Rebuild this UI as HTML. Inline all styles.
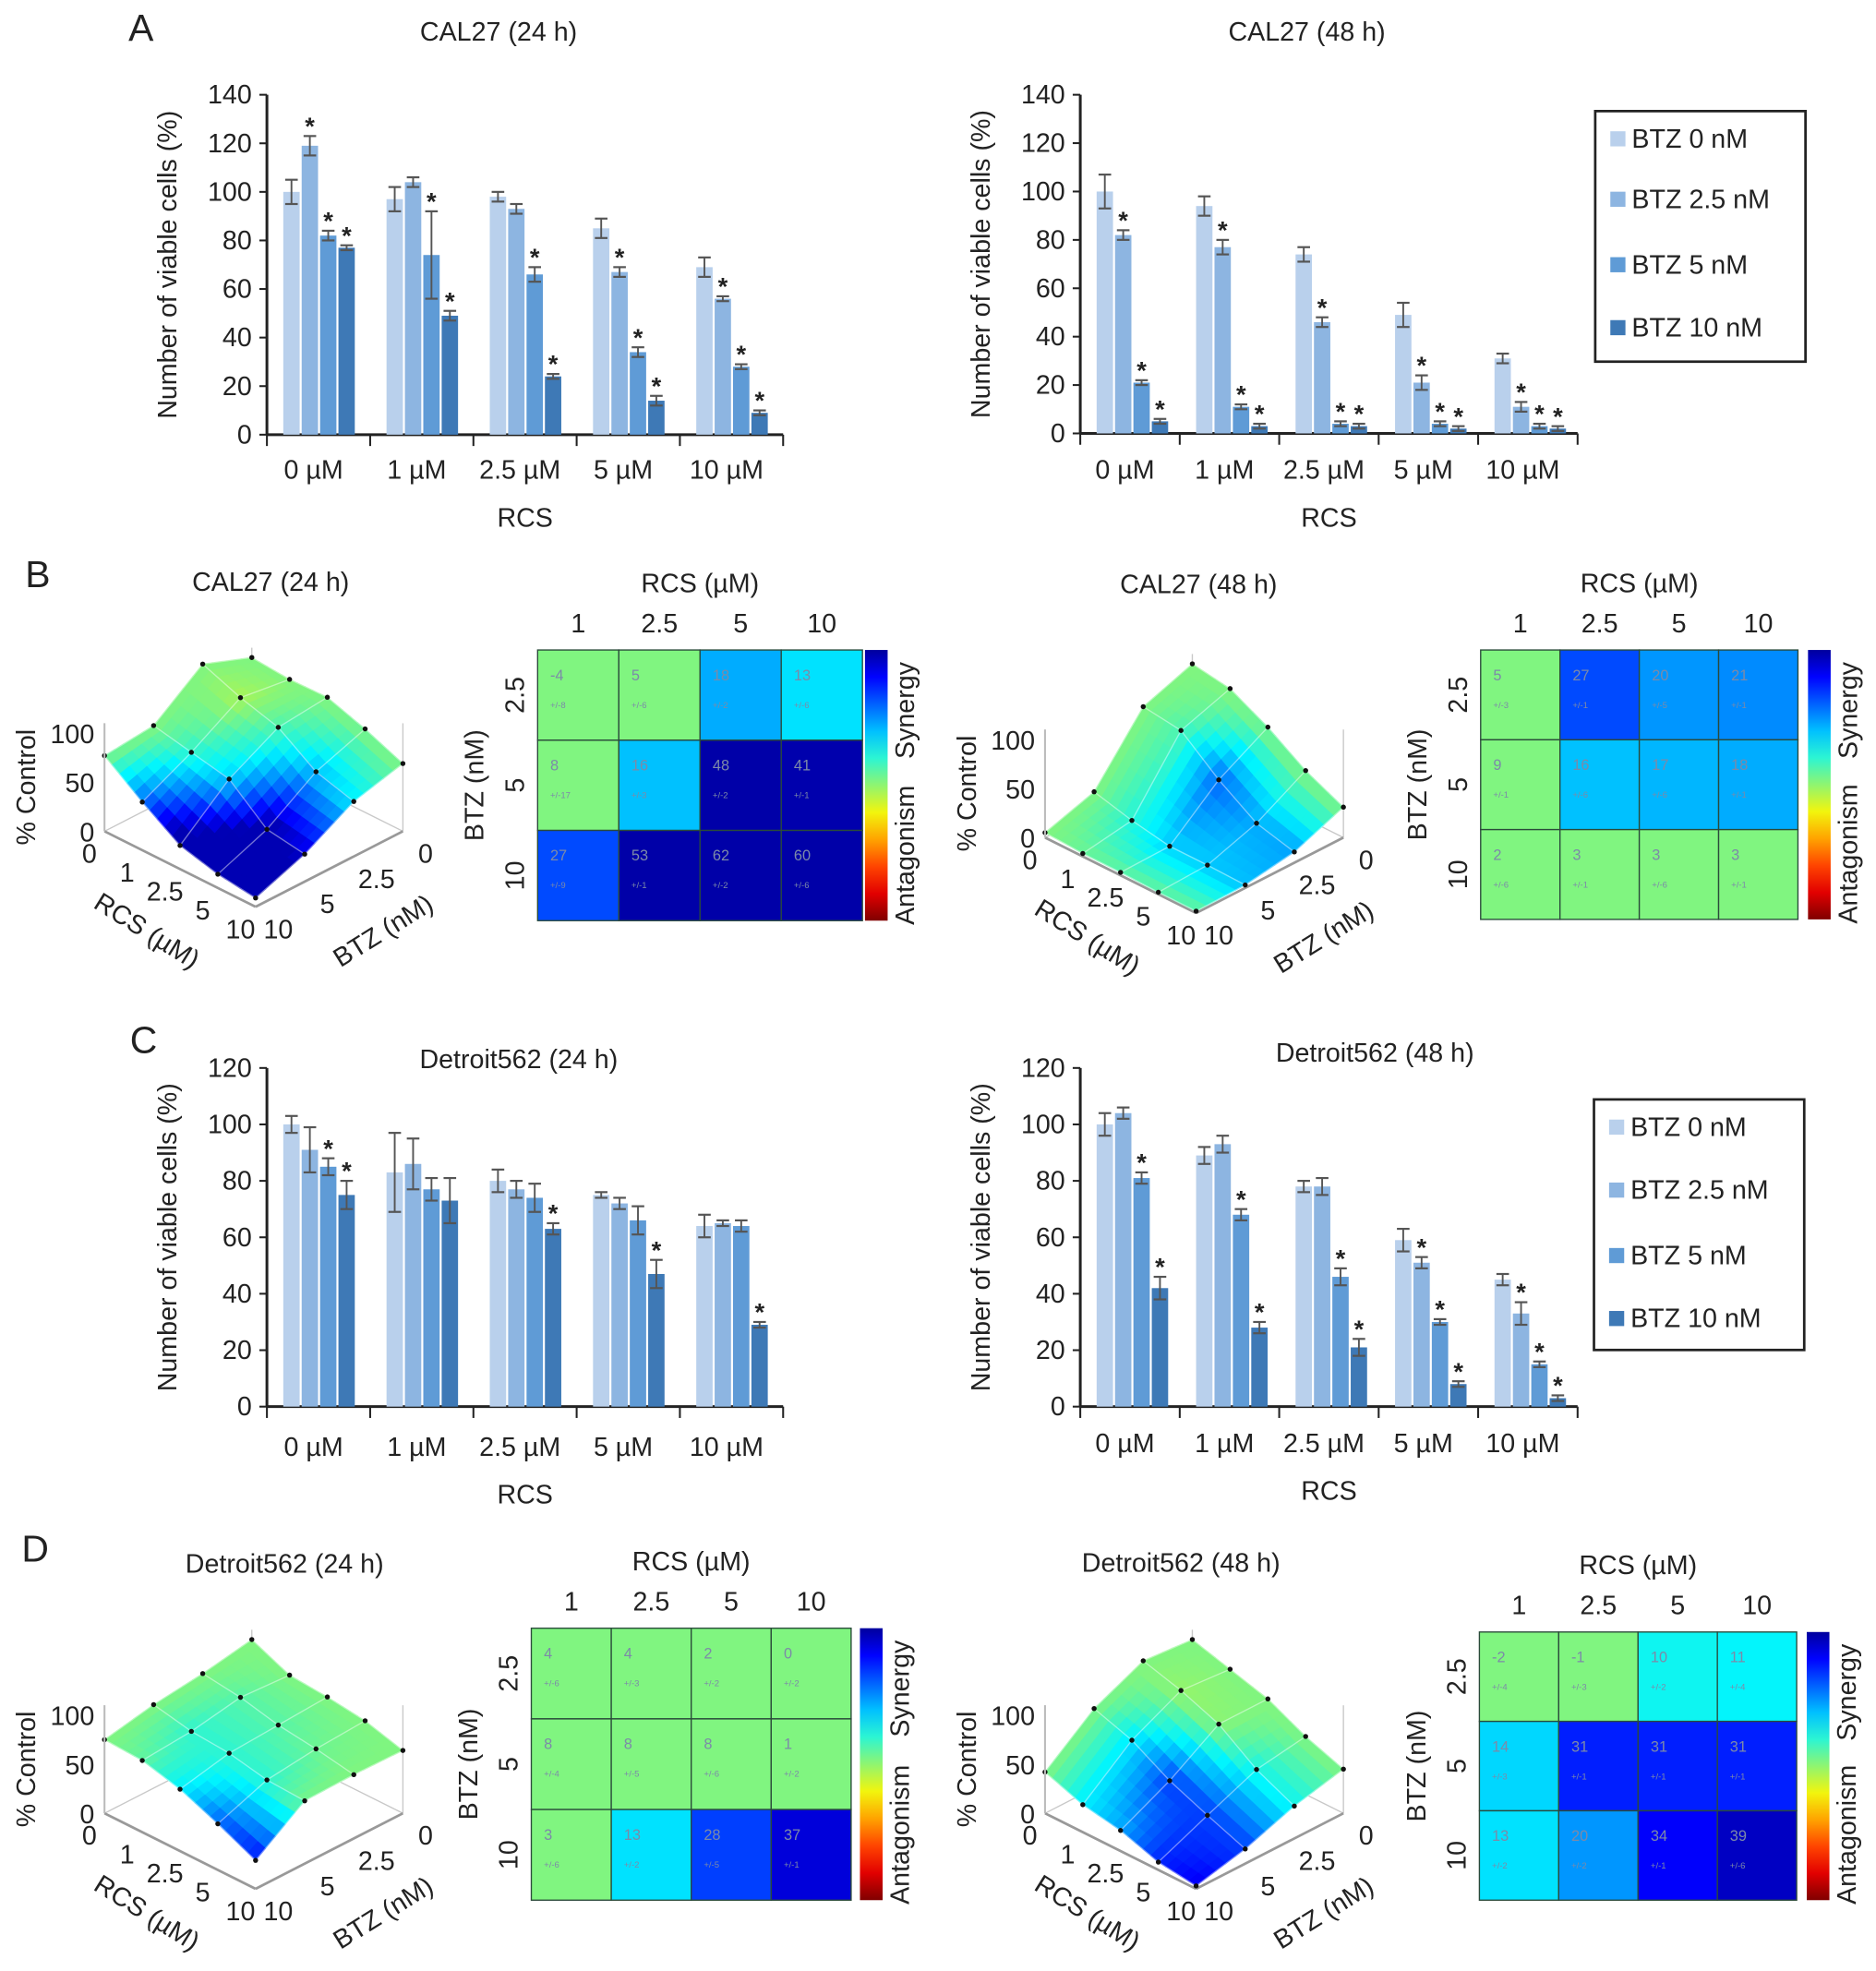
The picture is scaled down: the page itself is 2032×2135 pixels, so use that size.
<!DOCTYPE html>
<html><head><meta charset="utf-8"><style>
html,body{margin:0;padding:0;background:#fff}
svg{display:block}
text{font-family:"Liberation Sans",sans-serif;fill:#222}
</style></head><body>
<svg id="fig" width="2032" height="2135" viewBox="0 0 1490 1565" xmlns="http://www.w3.org/2000/svg"></svg>
<script>
// ---------- DATA ----------
const rcsCats = ["0 µM","1 µM","2.5 µM","5 µM","10 µM"];
const btzNames = ["BTZ 0 nM","BTZ 2.5 nM","BTZ 5 nM","BTZ 10 nM"];
// values[rcs][btz]
const cal24Vals = [[100,119,82,77],[97,104,74,49],[98,93,66,24],[85,67,34,14],[69,56,28,9]];
const cal24Err  = [[5,4,2,1],[5,2,18,2],[2,2,3,1],[4,2,2,2],[4,1,1,1]];
const cal24Star = [[0,1,1,1],[0,0,1,1],[0,0,1,1],[0,1,1,1],[0,1,1,1]];
const cal48Vals = [[100,82,21,5],[94,77,11,3],[74,46,4,3],[49,21,4,2],[31,11,3,2]];
const cal48Err  = [[7,2,1,1],[4,3,1,1],[3,2,1,1],[5,3,1,1],[2,2,1,1]];
const cal48Star = [[0,1,1,1],[0,1,1,1],[0,1,1,1],[0,1,1,1],[0,1,1,1]];
const det24Vals = [[100,91,85,75],[83,86,77,73],[80,77,74,63],[75,72,66,47],[64,65,64,29]];
const det24Err  = [[3,8,3,5],[14,9,4,8],[4,3,5,2],[1,2,5,5],[4,1,2,1]];
const det24Star = [[0,0,1,1],[0,0,0,0],[0,0,0,1],[0,0,0,1],[0,0,0,1]];
const det48Vals = [[100,104,81,42],[89,93,68,28],[78,78,46,21],[59,51,30,8],[45,33,15,3]];
const det48Err  = [[4,2,2,4],[3,3,2,2],[2,3,3,3],[4,2,1,1],[2,4,1,1]];
const det48Star = [[0,0,1,1],[0,0,1,1],[0,0,1,1],[0,1,1,1],[0,1,1,1]];
const ticksA = [0,20,40,60,80,100,120,140];
const ticksC = [0,20,40,60,80,100,120];
// synergy heatmaps [btz row 2.5,5,10][rcs col 1,2.5,5,10]
const heatRcsLabels = ["1","2.5","5","10"];
const heatBtzLabels = ["2.5","5","10"];
const synCal24 = [[-4,5,18,13],[8,16,48,41],[27,53,62,60]];
const synCal48 = [[5,27,20,21],[9,16,17,18],[2,3,3,3]];
const synDet24 = [[4,4,2,0],[8,8,8,1],[3,13,28,37]];
const synDet48 = [[-2,-1,10,11],[14,31,31,31],[13,20,34,39]];
const errCal24 = [[8,6,2,6],[17,3,2,1],[9,1,2,6]];
const errCal48 = [[3,1,5,1],[1,6,6,1],[6,1,6,1]];
const errDet24 = [[6,3,2,2],[4,5,6,2],[6,2,5,1]];
const errDet48 = [[4,3,2,4],[3,1,1,1],[2,2,1,6]];
const surfRcs = ["0","1","2.5","5","10"];
const surfBtz = ["0","2.5","5","10"];
const zTicks = [0,50,100];

// ---------- HELPERS ----------
const svg=document.getElementById('fig');
const NS="http://www.w3.org/2000/svg";
function mk(tag,attrs,parent){const e=document.createElementNS(NS,tag);for(const k in attrs)e.setAttribute(k,attrs[k]);(parent||svg).appendChild(e);return e;}
function txt(s,x,y,size,anchor,parent,extra){const e=mk('text',Object.assign({x:x,y:y,'font-size':size,'text-anchor':anchor||'middle'},extra||{}),parent);e.textContent=s;return e;}
function clamp(v){return Math.max(0,Math.min(1,v));}
function jet(t){const r=clamp(1.5-Math.abs(4*t-3)),g=clamp(1.5-Math.abs(4*t-2)),b=clamp(1.5-Math.abs(4*t-1));return `rgb(${Math.round(r*255)},${Math.round(g*245)},${Math.round(b*255)})`;}
function synColor(v){const t=v<10?0.5:0.5-v/90;return jet(Math.max(0.04,Math.min(1,t)));}
function surfColor(v){return jet(Math.max(0.05,Math.min(1,0.5-v/100)));}
const barColors=["#b9d0ec","#8db5e1","#5f9bd6","#3e79b6"];

// ---------- BAR CHART ----------
function barChart(name,x0,x1,yBase,yTop,maxV,ticks,vals,errs,stars,title,tx,ty,xlabY,rcsY){
  const g=mk('g',{});  
  const ys=v=>yBase-(v/maxV)*(yBase-yTop);
  const gw=(x1-x0)/rcsCats.length;
  const t=txt(title,tx,ty,21,'middle',g);  
  mk('line',{x1:x0,y1:yTop,x2:x0,y2:yBase,stroke:'#222','stroke-width':2.2},g);
  mk('line',{x1:x0,y1:yBase,x2:x1,y2:yBase,stroke:'#222','stroke-width':2.2},g);
  ticks.forEach(v=>{const y=ys(v);mk('line',{x1:x0-6,y1:y,x2:x0,y2:y,stroke:'#222','stroke-width':1.5},g);
    const l=txt(String(v),x0-12,y+7,21,'end',g);  });
  const yt=txt('Number of viable cells (%)',0,0,21,'middle',g,{transform:`translate(${x0-72},${(yBase+yTop)/2}) rotate(-90)`});
   
  for(let i=0;i<=rcsCats.length;i++){const x=x0+i*gw;mk('line',{x1:x,y1:yBase,x2:x,y2:yBase+9,stroke:'#222','stroke-width':1.5},g);}
  vals.forEach((grp,i)=>{
    const gx=x0+i*gw;
    const cl=txt(rcsCats[i],gx+gw/2-4,xlabY,21,'middle',g);  
    grp.forEach((v,j)=>{
      const bx=gx+13+j*14.6, bw=13;
      const r=mk('rect',{x:bx,y:ys(v),width:bw,height:yBase-ys(v),fill:barColors[j]},g);
       
      const e=errs[i][j], cx=bx+bw/2;
      mk('line',{x1:cx,y1:ys(v+e),x2:cx,y2:ys(v-e),stroke:'#555','stroke-width':1.4},g);
      mk('line',{x1:cx-5,y1:ys(v+e),x2:cx+5,y2:ys(v+e),stroke:'#555','stroke-width':1.6},g);
      mk('line',{x1:cx-5,y1:ys(v-e),x2:cx+5,y2:ys(v-e),stroke:'#555','stroke-width':1.6},g);
      if(stars[i][j]){const s=txt('*',cx,ys(v+e)-1,20,'middle',g,{'font-weight':'bold'});  }
    });
  });
  const xt=txt('RCS',(x0+x1)/2,rcsY,21,'middle',g);  
}
function legend(x,y,w,h,ys){
  const g=mk('g',{});  
  mk('rect',{x:x,y:y,width:w,height:h,fill:'#fff',stroke:'#222','stroke-width':2},g);
  btzNames.forEach((n,i)=>{
    const e=mk('g',{},g);  
    mk('rect',{x:x+12,y:ys[i]-8,width:12,height:12,fill:barColors[i]},e);
    txt(n,x+29,ys[i]+5,21,'start',e);
  });
}

// ---------- HEATMAP ----------
function heatmap(name,x0,y0,x1,y1,syn,err,cbx){
  const g=mk('g',{});  
  const cw=(x1-x0)/4, ch=(y1-y0)/3;
  syn.forEach((row,r)=>row.forEach((v,c)=>{
    const cell=mk('rect',{x:x0+c*cw,y:y0+r*ch,width:cw,height:ch,fill:synColor(v),stroke:'#2a4a3a','stroke-width':1},g);
     
    txt(String(v),x0+c*cw+10,y0+r*ch+24,12,'start',g,{style:'fill:#7c8aa8'});
    txt('+/-'+err[r][c],x0+c*cw+10,y0+r*ch+46,7,'start',g,{style:'fill:#7c8aa8'});
  }));
  heatRcsLabels.forEach((l,c)=>{const t=txt(l,x0+c*cw+cw/2,y0-14,21,'middle',g);});
  heatBtzLabels.forEach((l,r)=>{const t=txt(l,0,0,21,'middle',g,{transform:`translate(${x0-11},${y0+r*ch+ch/2}) rotate(-90)`});});
  txt('RCS (µM)',(x0+x1)/2,y0-46,21,'middle',g);
  txt('BTZ (nM)',0,0,21,'middle',g,{transform:`translate(${x0-43},${(y0+y1)/2}) rotate(-90)`});
  const id='grad'+name;
  const lg=mk('linearGradient',{id:id,x1:0,y1:1,x2:0,y2:0},mk('defs',{},g));
  for(let k=0;k<=10;k++){mk('stop',{offset:k/10,'stop-color':jet(1-k/10*0.97)},lg);}
  const cb=mk('rect',{x:cbx,y:y0,width:18,height:y1-y0,fill:`url(#${id})`},g);
   
  txt('Synergy',0,0,21,'middle',g,{transform:`translate(${cbx+39},${y0+48}) rotate(-90)`});
  txt('Antagonism',0,0,21,'middle',g,{transform:`translate(${cbx+39},${y1-52}) rotate(-90)`});
}

// ---------- 3D SURFACE ----------
function surface(name,dx,dy,vals,syn,title,tx,ty){
  const g=mk('g',{});  
  const back=[200+dx,600+dy], vR=[30,15], vB=[-39,20], zs=0.78;
  const P=(i,j,z)=>[back[0]+i*vR[0]+j*vB[0], back[1]+i*vR[1]+j*vB[1]-z*zs];
  const Z=(i,j)=>vals[i][j];
  const S=(i,j)=>(i===0||j===0)?0:syn[j-1][i-1];
  const t=txt(title,tx,ty,21,'middle',g);  
  const L=P(0,3,0),F=P(4,3,0),R=P(4,0,0),B=P(0,0,0);
  const gl={stroke:'#c8c8c8','stroke-width':1};
  [[B,L],[B,R],[[L[0],L[1]],[L[0],L[1]-110*zs]],[[R[0],R[1]],[R[0],R[1]-110*zs]],[[B[0],B[1]],[B[0],B[1]-110*zs]]].forEach(([a,b])=>mk('line',Object.assign({x1:a[0],y1:a[1],x2:b[0],y2:b[1]},gl),g));
  mk('line',{x1:L[0],y1:L[1],x2:F[0],y2:F[1],stroke:'#999','stroke-width':2},g);
  mk('line',{x1:F[0],y1:F[1],x2:R[0],y2:R[1],stroke:'#999','stroke-width':2},g);
  const n=5, quads=[];
  const interp=(f,u,v)=>{const i=Math.min(Math.floor(u),3),j=Math.min(Math.floor(v),2),a=u-i,b=v-j;
    return f(i,j)*(1-a)*(1-b)+f(i+1,j)*a*(1-b)+f(i,j+1)*(1-a)*b+f(i+1,j+1)*a*b;};
  for(let a=0;a<4*n;a++)for(let b=0;b<3*n;b++){
    const pts=[[a,b],[a+1,b],[a+1,b+1],[a,b+1]].map(([u,v])=>{u/=n;v/=n;return P(u,v,interp(Z,u,v));});
    const s=interp(S,(a+0.5)/n,(b+0.5)/n);
    quads.push({d:a+b,pts:pts,c:surfColor(s)});
  }
  quads.sort((p,q)=>p.d-q.d);
  const sg=mk('g',{},g);  
  quads.forEach(q=>mk('polygon',{points:q.pts.map(p=>p.join(',')).join(' '),fill:q.c,stroke:q.c,'stroke-width':0.8},sg));
  for(let i=0;i<5;i++){const pts=[];for(let j=0;j<4;j++)pts.push(P(i,j,Z(i,j)).join(','));mk('polyline',{points:pts.join(' '),fill:'none',stroke:'rgba(255,255,255,0.45)','stroke-width':1},g);}
  for(let j=0;j<4;j++){const pts=[];for(let i=0;i<5;i++)pts.push(P(i,j,Z(i,j)).join(','));mk('polyline',{points:pts.join(' '),fill:'none',stroke:'rgba(255,255,255,0.45)','stroke-width':1},g);}
  for(let i=0;i<5;i++)for(let j=0;j<4;j++){const p=P(i,j,Z(i,j));const c=mk('circle',{cx:p[0],cy:p[1],r:2,fill:'#111'},g);}
  mk('line',{x1:L[0],y1:L[1],x2:L[0],y2:L[1]-110*zs,stroke:'#bbb','stroke-width':1.5},g);
  zTicks.forEach(v=>txt(String(v),L[0]-8,L[1]-v*zs+8,21,'end',g));
  txt('% Control',0,0,21,'middle',g,{transform:`translate(${L[0]-55},${L[1]-35}) rotate(-90)`});
  surfRcs.forEach((l,i)=>{const p=P(i,3,0);txt(l,p[0]-12,p[1]+25,21,'middle',g);});
  surfBtz.forEach((l,j)=>{const p=P(4,j,0);txt(l,p[0]+18,p[1]+25,21,'middle',g);});
  txt('RCS (µM)',0,0,21,'middle',g,{transform:`translate(${L[0]+30},${L[1]+85}) rotate(32)`});
  txt('BTZ (nM)',0,0,21,'middle',g,{transform:`translate(${R[0]-12},${R[1]+85}) rotate(-32)`});
}

// ---------- BUILD ----------
function letter(s,x,y){const t=txt(s,x,y,30,'middle');}
letter('A',112,32); letter('B',30,466); letter('C',114,836); letter('D',28,1240);
barChart('chart-cal27-24h',212,622,345,75,140,ticksA,cal24Vals,cal24Err,cal24Star,'CAL27 (24 h)',396,32,380,418);
barChart('chart-cal27-48h',858,1253,344,75,140,ticksA,cal48Vals,cal48Err,cal48Star,'CAL27 (48 h)',1038,32,380,418);
legend(1267,88,167,199,[112,160,212,262]);
barChart('chart-det562-24h',212,622,1117,848,120,ticksC,det24Vals,det24Err,det24Star,'Detroit562 (24 h)',412,848,1156,1194);
barChart('chart-det562-48h',858,1253,1117,848,120,ticksC,det48Vals,det48Err,det48Star,'Detroit562 (48 h)',1092,843,1153,1191);
legend(1266,873,167,199,[897,947,999,1049]);
surface('surface-cal27-24h',0,0,cal24Vals,synCal24,'CAL27 (24 h)',215,469);
heatmap('heatmap-cal27-24h',427,516,685,731,synCal24,errCal24,687);
surface('surface-cal27-48h',747,5,cal48Vals,synCal48,'CAL27 (48 h)',952,471);
heatmap('heatmap-cal27-48h',1176,516,1428,730,synCal48,errCal48,1436);
surface('surface-det562-24h',0,780,det24Vals,synDet24,'Detroit562 (24 h)',226,1249);
heatmap('heatmap-det562-24h',422,1293,676,1509,synDet24,errDet24,683);
surface('surface-det562-48h',747,780,det48Vals,synDet48,'Detroit562 (48 h)',938,1248);
heatmap('heatmap-det562-48h',1175,1296,1427,1509,synDet48,errDet48,1435);
</script>
</body></html>
